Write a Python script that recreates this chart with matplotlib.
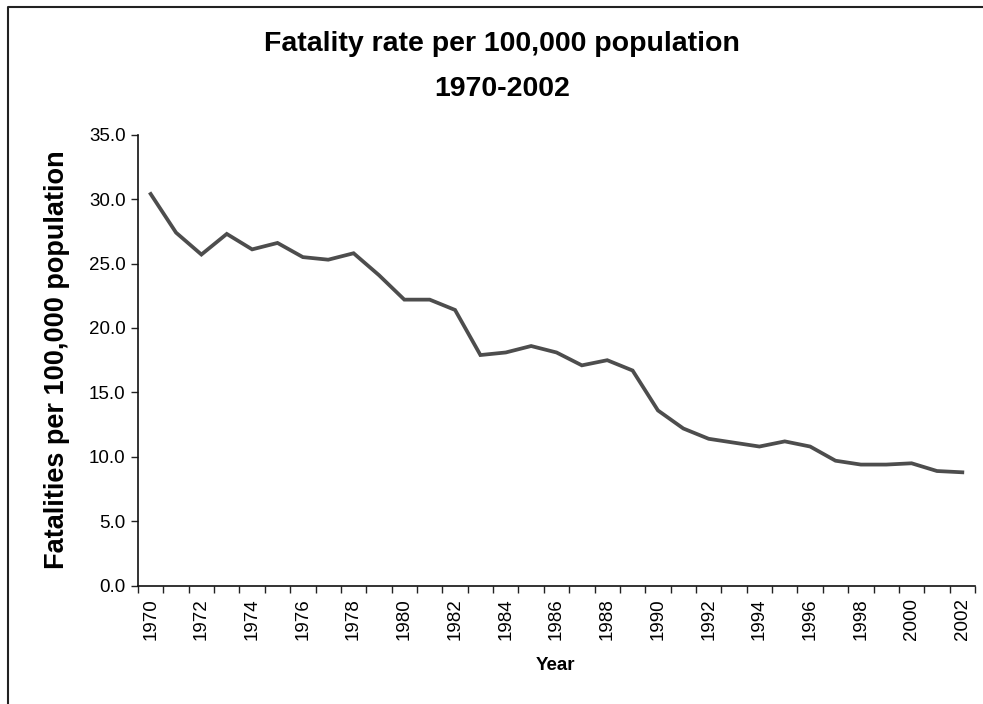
import matplotlib
matplotlib.use("Agg")
import matplotlib.pyplot as plt
from matplotlib.lines import Line2D

plt.rcParams["font.family"] = ["Liberation Sans", "DejaVu Sans"]

# 연도별 인구 10만명당 사망률
years = list(range(1970, 2003))
rate = [30.4, 27.4, 25.7, 27.3, 26.1, 26.6, 25.5, 25.3, 25.8, 24.1,
        22.2, 22.2, 21.4, 17.9, 18.1, 18.6, 18.1, 17.1, 17.5, 16.7,
        13.6, 12.2, 11.4, 11.1, 10.8, 11.2, 10.8, 9.7, 9.4, 9.4,
        9.5, 8.9, 8.8]
yticks = [0, 5, 10, 15, 20, 25, 30, 35]

fig = plt.figure(figsize=(9.83, 7.04), dpi=100)
ax = fig.add_axes([138 / 983, 1 - 585.7 / 704, (975 - 138) / 983, (585.7 - 134.7) / 704])

pos = list(range(len(years)))
ax.plot(pos, rate, color="#4d4d4d", linewidth=2.7, solid_joinstyle="miter")

ax.set_xlim(-0.5, len(years) - 0.5)
ax.set_ylim(0, 35)
ax.set_yticks(yticks)
ax.set_yticklabels(["%.1f" % v for v in yticks], fontsize=13.5)

# 눈금은 구간 경계, 라벨은 2년마다
ax.set_xticks([p - 0.5 for p in range(len(years) + 1)])
ax.set_xticklabels([])
ax.set_xticks(pos[::2], minor=True)
ax.set_xticklabels([str(y) for y in years[::2]], minor=True, rotation=90, fontsize=13.5)
ax.tick_params(axis="x", which="major", length=5, width=1, color="#222222", direction="out")
ax.tick_params(axis="x", which="minor", length=0, pad=9)
ax.tick_params(axis="y", length=5, width=1, color="#222222", pad=4)

for s in ["top", "right"]:
    ax.spines[s].set_visible(False)
for s in ["left", "bottom"]:
    ax.spines[s].set_color("#111111")
    ax.spines[s].set_linewidth(1.2)

fig.text(502 / 983, 1 - 66.5 / 704, "Fatality rate per 100,000 population\n1970-2002",
         ha="center", va="center", fontsize=20.5, fontweight="bold", linespacing=1.95)
fig.text(57 / 983, 1 - 360 / 704, "Fatalities per 100,000 population", rotation=90,
         ha="center", va="center", fontsize=19.5, fontweight="bold")
fig.text(555 / 983, 1 - 665 / 704, "Year", ha="center", va="center",
         fontsize=13.5, fontweight="bold")

# 차트 영역 테두리 (위, 왼쪽)
fig.add_artist(Line2D([8 / 983, 8 / 983, 1], [0, 1 - 7 / 704, 1 - 7 / 704],
                      transform=fig.transFigure, color="#222222", linewidth=1.5))

fig.savefig("out.png", dpi=100, facecolor="white")
